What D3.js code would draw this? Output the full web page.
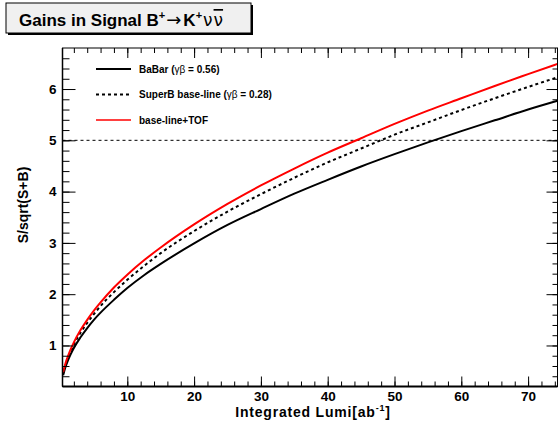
<!DOCTYPE html>
<html>
<head>
<meta charset="utf-8">
<script src="https://cdn.jsdelivr.net/npm/d3@7"></script>
<style>
  body { margin: 0; background: #fff; }
  text { font-family: "Liberation Sans", Arial, sans-serif; }
</style>
</head>
<body>
<div id="chart"></div>
<script>
// Luminosità integrata (ab^-1) e S/sqrt(S+B)
const lumi = [0.4, 0.7, 1, 1.5, 2, 3, 4, 5, 6, 8, 10, 12.5, 15, 20, 25, 30, 35, 40, 45, 50, 55, 60, 65, 70, 74.4];
const babar = [0.42, 0.56, 0.67, 0.82, 0.95, 1.16, 1.34, 1.50, 1.64, 1.89, 2.12, 2.37, 2.59, 2.99, 3.35, 3.66, 3.96, 4.23, 4.49, 4.73, 4.96, 5.18, 5.39, 5.60, 5.77];
const superb = [0.46, 0.60, 0.72, 0.88, 1.02, 1.25, 1.44, 1.61, 1.77, 2.04, 2.28, 2.55, 2.80, 3.23, 3.61, 3.95, 4.27, 4.57, 4.84, 5.11, 5.35, 5.59, 5.82, 6.04, 6.23];
const tof = [0.48, 0.63, 0.75, 0.92, 1.06, 1.30, 1.50, 1.68, 1.84, 2.13, 2.38, 2.66, 2.91, 3.36, 3.76, 4.12, 4.45, 4.76, 5.04, 5.32, 5.58, 5.82, 6.06, 6.29, 6.49];
const soglia = 5;
const xTicks = [10, 20, 30, 40, 50, 60, 70];
const yTicks = [1, 2, 3, 4, 5, 6];

const W = 559, H = 423;
const pLeft = 62.5, pRight = 557.5, pTop = 48, pBottom = 386.5;

const svg = d3.select("#chart").append("svg")
    .attr("width", W)
    .attr("height", H);

svg.append("rect").attr("width", W).attr("height", H).style("fill", "#fff");

const x = d3.scaleLinear().domain([0.3, 74.4]).range([pLeft, pRight]);
const y = d3.scaleLinear().domain([0.2, 6.8]).range([pBottom, pTop]);

// linea tratteggiata a 5 sigma
svg.append("line")
    .attr("x1", pLeft).attr("x2", pRight)
    .attr("y1", y(soglia)).attr("y2", y(soglia))
    .style("stroke", "#000").style("stroke-width", 1)
    .style("stroke-dasharray", "3,3");

// curve
const serie = [
    {nome: "BaBar", vals: babar, colore: "#000", dash: null, w: 2},
    {nome: "SuperB", vals: superb, colore: "#000", dash: "3,3", w: 2},
    {nome: "TOF", vals: tof, colore: "#ff0000", dash: null, w: 2}
];
const linea = d3.line()
    .x(d => x(d[0]))
    .y(d => y(d[1]))
    .curve(d3.curveMonotoneX);

svg.append("clipPath").attr("id", "clip")
    .append("rect").attr("x", pLeft).attr("y", pTop)
    .attr("width", pRight - pLeft).attr("height", pBottom - pTop);

serie.forEach(s => {
    svg.append("path")
        .datum(lumi.map((l, i) => [l, s.vals[i]]))
        .attr("d", linea)
        .attr("clip-path", "url(#clip)")
        .style("fill", "none")
        .style("stroke", s.colore)
        .style("stroke-width", s.w)
        .style("stroke-dasharray", s.dash);
});

// assi con tacche alla ROOT
const gx = svg.append("g").attr("transform", `translate(0,${pBottom})`);
gx.call(d3.axisBottom(x).tickValues(d3.range(2, 75, 2)).tickSize(-5).tickFormat(""));
const gx2 = svg.append("g").attr("transform", `translate(0,${pBottom})`);
gx2.call(d3.axisBottom(x).tickValues(xTicks).tickSize(-10).tickPadding(5).tickFormat(d3.format("d")));
const gxt = svg.append("g").attr("transform", `translate(0,${pTop})`);
gxt.call(d3.axisTop(x).tickValues(d3.range(2, 75, 2)).tickSize(-5).tickFormat(""));
const gxt2 = svg.append("g").attr("transform", `translate(0,${pTop})`);
gxt2.call(d3.axisTop(x).tickValues(xTicks).tickSize(-10).tickFormat(""));

const minY = d3.range(0.4, 6.8, 0.2);
const gy = svg.append("g").attr("transform", `translate(${pLeft},0)`);
gy.call(d3.axisLeft(y).tickValues(minY).tickSize(-7).tickFormat(""));
const gy2 = svg.append("g").attr("transform", `translate(${pLeft},0)`);
gy2.call(d3.axisLeft(y).tickValues(yTicks).tickSize(-13).tickFormat(d3.format("d")));
const gyr = svg.append("g").attr("transform", `translate(${pRight},0)`);
gyr.call(d3.axisRight(y).tickValues(minY).tickSize(-5).tickFormat(""));
const gyr2 = svg.append("g").attr("transform", `translate(${pRight},0)`);
gyr2.call(d3.axisRight(y).tickValues(yTicks).tickSize(-11).tickFormat(""));

svg.selectAll(".domain").remove();
svg.selectAll(".tick line").style("stroke", "#000").style("stroke-width", 1);
svg.selectAll(".tick text")
    .style("font-family", "Liberation Sans, Arial, sans-serif")
    .style("font-size", "13.5px").style("font-weight", "bold").style("fill", "#000");
gy2.selectAll(".tick text").attr("x", -6);

// cornice
svg.append("rect")
    .attr("x", pLeft).attr("y", pTop)
    .attr("width", pRight - pLeft).attr("height", pBottom - pTop)
    .style("fill", "none").style("stroke", "#000").style("stroke-width", 1);
svg.append("line").attr("x1", pLeft).attr("x2", pRight).attr("y1", pBottom).attr("y2", pBottom)
    .style("stroke", "#000").style("stroke-width", 2);
svg.append("line").attr("x1", pLeft).attr("x2", pLeft).attr("y1", pTop).attr("y2", pBottom)
    .style("stroke", "#000").style("stroke-width", 1.5);

// titoli degli assi
const xt = svg.append("text")
    .attr("x", 313).attr("y", 417)
    .attr("text-anchor", "middle")
    .style("font-size", "14px").style("font-weight", "bold")
    .style("letter-spacing", "0.8px");
xt.append("tspan").text("Integrated Lumi[ab");
xt.append("tspan").attr("dy", -6).style("font-size", "9px").text("-1");
xt.append("tspan").attr("dy", 6).text("]");

svg.append("text")
    .attr("transform", "translate(28,205) rotate(-90)")
    .attr("text-anchor", "middle")
    .style("font-size", "14px").style("font-weight", "bold")
    .text("S/sqrt(S+B)");

// legenda
const leg = [
    {testo: "BaBar (", greco: "γβ", resto: " = 0.56)", s: serie[0]},
    {testo: "SuperB base-line (", greco: "γβ", resto: " = 0.28)", s: serie[1]},
    {testo: "base-line+TOF", greco: "", resto: "", s: serie[2]}
];
leg.forEach((d, i) => {
    const yy = 69 + i * 25.5;
    svg.append("line")
        .attr("x1", 96).attr("x2", 131).attr("y1", yy).attr("y2", yy)
        .style("stroke", d.s.colore).style("stroke-width", i === 2 ? 1.5 : 2)
        .style("stroke-dasharray", d.s.dash);
    const t = svg.append("text")
        .attr("x", 139).attr("y", yy + 3.5)
        .style("font-size", "10px").style("font-weight", "bold");
    t.append("tspan").text(d.testo);
    if (d.greco) t.append("tspan").style("font-weight", "normal").text(d.greco);
    t.append("tspan").text(d.resto);
});

// riquadro del titolo
svg.append("rect").attr("x", 8).attr("y", 5).attr("width", 245).attr("height", 30)
    .style("fill", "#000");
svg.append("rect").attr("x", 6).attr("y", 3).attr("width", 245).attr("height", 30)
    .style("fill", "#f0f0f0").style("stroke", "#000").style("stroke-width", 1);
const tt = svg.append("text")
    .attr("x", 19).attr("y", 26)
    .style("font-size", "17px").style("font-weight", "bold");
tt.append("tspan").text("Gains in Signal B");
tt.append("tspan").attr("dy", -7).style("font-size", "11px").text("+");
tt.append("tspan").attr("dy", 7).attr("dx", 1)
    .style("font-family", "DejaVu Sans").style("font-weight", "normal")
    .style("font-size", "18px").text("→");
tt.append("tspan").attr("dx", 2).text("K");
tt.append("tspan").attr("dy", -7).style("font-size", "11px").text("+");
tt.append("tspan").attr("dy", 7).attr("dx", 1)
    .style("font-family", "DejaVu Sans").style("font-weight", "normal")
    .style("font-size", "17px").text("ν");
tt.append("tspan").attr("dx", 1)
    .style("font-family", "DejaVu Sans").style("font-weight", "normal")
    .style("font-size", "17px").style("text-decoration", "overline").text("ν");
</script>
</body>
</html>
